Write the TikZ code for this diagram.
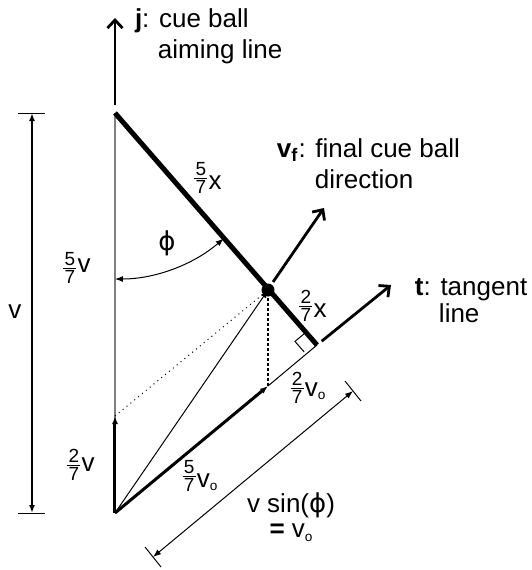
\documentclass[tikz,border=0pt]{standalone}
\usepackage{fontspec}
\setmainfont{Liberation Sans}
\newfontfamily\dvs{DejaVu Sans}
\usetikzlibrary{arrows.meta}
\newcommand{\fs}{\fontsize{9.5}{9.5}\selectfont}
\newcommand{\fr}[3][0pt]{\raisebox{#1}{$\vcenter{\offinterlineskip\fs\halign{\hfil##\hfil\cr #2\cr\noalign{\kern1.1pt}\rule{6.5pt}{0.5pt}\cr\noalign{\kern1.1pt}#3\cr}}$}\kern0.6pt}
\newcommand{\sbo}{\raisebox{-1.9pt}{\fontsize{6.8}{6.8}\selectfont o}}
\newcommand{\phig}{{\dvs ϕ}}
\begin{document}
\begin{tikzpicture}[x=0.5pt,y=-0.5pt,
  every node/.style={inner sep=0pt,outer sep=0pt,font=\fontsize{13}{15}\selectfont},
  thickline/.style={line width=2.5pt},
  bigarrow/.style={line width=1.4pt,-{Straight Barb[length=4pt,width=7.5pt,line width=1.4pt]}},
  medarrow/.style={line width=1.5pt,-{Latex[length=4pt,width=3pt]}},
  thinarrow/.style={line width=0.5pt,-{Latex[length=4pt,width=3pt]}},
  thinline/.style={line width=0.5pt},
  dimline/.style={line width=0.9pt,{Latex[length=4pt,width=3pt]}-{Latex[length=4pt,width=3pt]}},
  tick/.style={line width=0.5pt}]
\useasboundingbox (0,0) rectangle (532,570);
% points
\coordinate (O) at (115,513);
\coordinate (T) at (115,113);
\coordinate (A2) at (115,416);
\coordinate (B) at (268,290);
\coordinate (E) at (317,345);
\coordinate (P) at (268,386);
\coordinate (J0) at (115,105);
\coordinate (J) at (115,18);
\coordinate (VF0) at (273,282);
\coordinate (VF) at (324,208);
\coordinate (TT) at (391,285);
\coordinate (D1) at (153,557);
\coordinate (D2) at (353,391);
\coordinate (V1) at (32,113);
\coordinate (V2) at (32,513);
\coordinate (RA) at (315,343);
% gray vertical
\draw[gray,line width=0.6pt] (T) -- (O);
% dimension v
\draw[dimline] (V1) -- (V2);
\draw[tick] (18,113) -- (45,113);
\draw[tick] (18,513) -- (45,513);
% j arrow
\draw[bigarrow] (J0) -- (J);
% dotted lines
\draw[thinline,dotted] (A2) -- (B);
\draw[line width=1pt,dash pattern=on 1.5pt off 1pt] (P) -- (B);
% thin arrow O->B
\draw[thinarrow] (O) -- (B);
% tangent thin continuation
\draw[thinline] (P) -- (E);
% medium arrows
\draw[medarrow] (O) -- (A2);
\draw[medarrow] (O) -- (P);
% thick line
\draw[thickline] (T) -- (E);
% tangent arrow
\draw[bigarrow,shorten <=3pt] (E) -- (TT);
% vf arrow
\draw[bigarrow] (VF0) -- (VF);
% right angle
\draw[thinline] (RA) -- ++(-9.2,-10.6) -- ++(-10.8,9) -- ++(9.2,10.6);
% dot
\fill (B) circle[radius=6.5];
% phi arc
\draw[line width=0.5pt,{Latex[length=4pt,width=3pt]}-{Latex[length=4pt,width=3pt]}] (115,279) arc[start angle=90,end angle=49.1,radius=166];
% dimension v sin phi
\draw[line width=0.5pt,{Latex[length=4pt,width=3pt]}-{Latex[length=4pt,width=3pt]}] (D1) -- (D2);
\draw[tick] (145,547) -- (161,567);
\draw[tick] (345,381) -- (361,401);
% labels
\node[anchor=base west] (lj1) at (135,27) {\textbf{j}: cue ball};
\node[anchor=base west] (lj2) at (158,58) {aiming line};
\node[anchor=base west] (lf1) at (277,157) {\textbf{v\textsubscript{f}}: final cue ball};
\node[anchor=base west] (lf2) at (315,188) {direction};
\node[anchor=base west] (lt1) at (415,295) {\textbf{t}: tangent};
\node[anchor=base west] (lt2) at (439,322) {line};
\node (l57x) at (208,178) {\fr[2.5pt]{5}{7}x};
\node (l27x) at (313,306) {\fr[2.5pt]{2}{7}x};
\node (l57v) at (77,268) {\fr[-1pt]{5}{7}v};
\node (l27v) at (81,465) {\fr{2}{7}v};
\node (lv) at (15,312) {v};
\node (lphi) at (167,243) {\phig};
\node (l27vo) at (308,388) {\fr[1pt]{2}{7}v\sbo};
\node (l57vo) at (200,476) {\fr[2.5pt]{5}{7}v\sbo};
\node (lsin) at (291,505) {v sin(\phig)};
\node (leq) at (291,533) {\textbf{=} v\sbo};
\end{tikzpicture}
\end{document}
